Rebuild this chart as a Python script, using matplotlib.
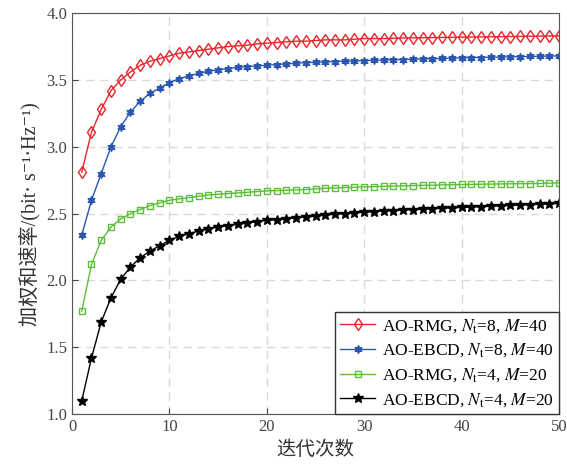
import matplotlib
matplotlib.use("Agg")
import matplotlib.pyplot as plt
import numpy as np

# iteration index and rates
iters = np.arange(1, 51)
rmg_8_40 = [2.81, 3.11, 3.28, 3.42, 3.50, 3.56, 3.61, 3.64, 3.66, 3.68,
            3.70, 3.71, 3.72, 3.73, 3.74, 3.75, 3.755, 3.76, 3.77, 3.775,
            3.78, 3.785, 3.79, 3.79, 3.795, 3.80, 3.80, 3.80, 3.805, 3.81,
            3.81, 3.81, 3.812, 3.814, 3.815, 3.816, 3.817, 3.818, 3.819, 3.82,
            3.821, 3.822, 3.823, 3.824, 3.825, 3.826, 3.827, 3.828, 3.829, 3.83]
ebcd_8_40 = [2.34, 2.60, 2.80, 3.00, 3.15, 3.26, 3.34, 3.40, 3.44, 3.48,
             3.51, 3.53, 3.55, 3.565, 3.575, 3.585, 3.595, 3.60, 3.605, 3.61,
             3.615, 3.62, 3.625, 3.63, 3.632, 3.635, 3.638, 3.64, 3.642, 3.645,
             3.647, 3.649, 3.651, 3.653, 3.655, 3.657, 3.659, 3.661, 3.663, 3.665,
             3.667, 3.668, 3.67, 3.671, 3.673, 3.674, 3.676, 3.677, 3.679, 3.68]
rmg_4_20 = [1.77, 2.12, 2.30, 2.40, 2.46, 2.50, 2.53, 2.56, 2.58, 2.60,
            2.61, 2.62, 2.63, 2.64, 2.645, 2.65, 2.655, 2.66, 2.665, 2.67,
            2.672, 2.675, 2.678, 2.68, 2.685, 2.69, 2.692, 2.695, 2.698, 2.70,
            2.702, 2.704, 2.706, 2.708, 2.71, 2.712, 2.713, 2.715, 2.716, 2.718,
            2.719, 2.72, 2.721, 2.722, 2.723, 2.724, 2.725, 2.726, 2.728, 2.73]
ebcd_4_20 = [1.10, 1.42, 1.69, 1.87, 2.01, 2.10, 2.17, 2.22, 2.26, 2.30,
             2.33, 2.35, 2.37, 2.385, 2.40, 2.41, 2.42, 2.43, 2.44, 2.45,
             2.455, 2.46, 2.47, 2.475, 2.48, 2.49, 2.495, 2.50, 2.505, 2.51,
             2.515, 2.52, 2.523, 2.527, 2.53, 2.533, 2.537, 2.54, 2.543, 2.546,
             2.549, 2.552, 2.555, 2.558, 2.561, 2.564, 2.567, 2.57, 2.573, 2.576]
labels = ['AO-RMG, $N_{\\rm t}$=8, $M$=40',
          'AO-EBCD, $N_{\\rm t}$=8, $M$=40',
          'AO-RMG, $N_{\\rm t}$=4, $M$=20',
          'AO-EBCD, $N_{\\rm t}$=4, $M$=20']

plt.rcParams['font.family'] = ['Liberation Serif', 'Noto Sans CJK SC', 'DejaVu Serif']
plt.rcParams['mathtext.fontset'] = 'stix'

fig = plt.figure(figsize=(5.67, 4.69), dpi=100)
ax = fig.add_axes([0.127, 0.117, 0.859, 0.855])

ax.plot(iters, rmg_8_40, color='#e8262b', lw=1, marker='d', ms=6.5,
        mfc='none', mew=1, label=labels[0])
ax.plot(iters, ebcd_8_40, color='#2a55b0', lw=1, marker=(6, 1, 0), ms=6,
        mfc='#2a55b0', mew=0.8, label=labels[1])
ax.plot(iters, rmg_4_20, color='#5cbf3a', lw=1, marker='s', ms=4.5,
        mfc='none', mew=1, label=labels[2])
ax.plot(iters, ebcd_4_20, color='black', lw=1, marker='*', ms=7,
        mfc='black', label=labels[3])

ax.set_xlim(0, 50)
ax.set_ylim(1.0, 4.0)
ax.set_xticks(np.arange(0, 51, 10))
ax.set_yticks(np.arange(1.0, 4.01, 0.5))
ax.yaxis.set_major_formatter(matplotlib.ticker.FormatStrFormatter('%.1f'))
ax.tick_params(direction='in', labelsize=12, length=4, colors='#444444',
               labelcolor='#444444')
ax.grid(True, ls=(0, (6, 4)), color='#d9d9d9', lw=1)
for s in ax.spines.values():
    s.set_color('#555555')

ax.set_xlabel('迭代次数', fontsize=14, color='#333333')
ax.set_ylabel('加权和速率/(bit· s⁻¹·Hz⁻¹)', fontsize=14.5, color='#333333')

leg = ax.legend(loc='lower right', fontsize=12.5, frameon=True, fancybox=False,
                framealpha=1, edgecolor='#333333', borderaxespad=0,
                handlelength=2.0, handletextpad=0.4, labelspacing=0.4,
                borderpad=0.3)
leg.get_frame().set_linewidth(1)

fig.savefig('out.png', dpi=100)
